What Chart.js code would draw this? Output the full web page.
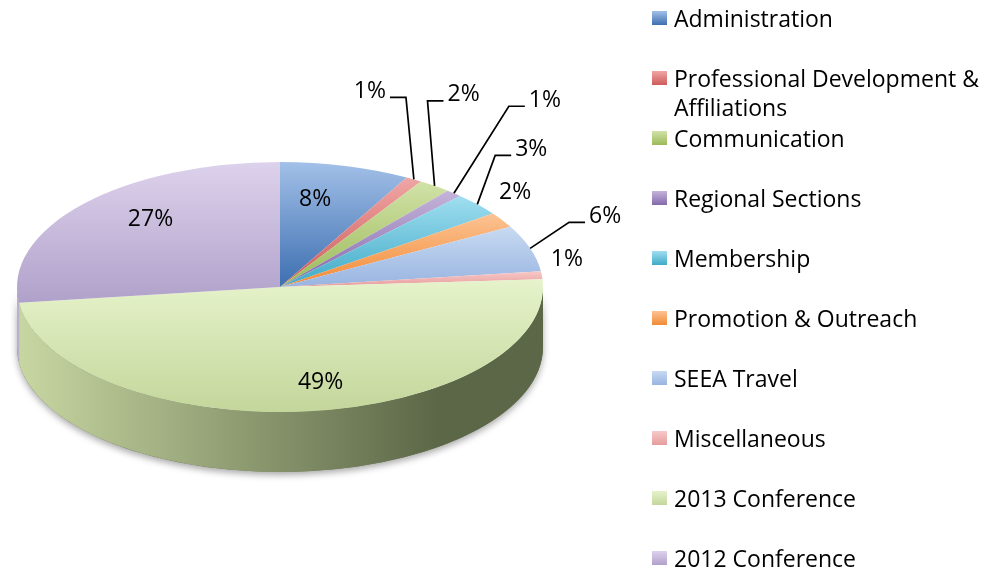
<!DOCTYPE html>
<html>
<head>
<meta charset="utf-8">
<title>Budget split</title>
<script src="https://cdn.jsdelivr.net/npm/chart.js@4.4.0/dist/chart.umd.min.js"></script>
<style>
  html, body { margin: 0; padding: 0; background: #fff; }
  #wrap { position: relative; width: 1003px; height: 571px; overflow: hidden; font-family: "Open Sans", sans-serif; }
  #budgetPie { position: absolute; left: 0; top: 0; }
  #legend { position: absolute; left: 652px; top: 4px; margin: 0; padding: 0; list-style: none; }
  #legend li { display: flex; align-items: flex-start; height: 60px; font-size: 23px; line-height: 29px; color: #000; }
  #legend .swatch { flex: none; width: 15px; height: 14px; margin: 7px 7px 0 0; }
  #legend .txt { max-width: 330px; }
</style>
</head>
<body>
<div id="wrap">
  <canvas id="budgetPie" width="1003" height="571"></canvas>
  <ul id="legend"></ul>
</div>
<script>
(function() {
  'use strict';

  // data
  const sliceLabels = [
    'Administration',
    'Professional Development & Affiliations',
    'Communication',
    'Regional Sections',
    'Membership',
    'Promotion & Outreach',
    'SEEA Travel',
    'Miscellaneous',
    '2013 Conference',
    '2012 Conference'
  ];
  const shares = [8, 1, 2, 1, 3, 2, 6, 1, 49, 27];

  // [light, dark] for the top face of each slice
  const faceColors = [
    ['#a2c0e8', '#3d6fb0'],
    ['#efa6a5', '#cd5b5a'],
    ['#d2e2a8', '#9aba58'],
    ['#c4b4d9', '#8468ab'],
    ['#a0def0', '#3faac6'],
    ['#fcc393', '#f28a35'],
    ['#c8daf2', '#98b4e0'],
    ['#f7c9c8', '#e69c9c'],
    ['#e6f3cb', '#c4d69b'],
    ['#ddd2ec', '#b0a1ca']
  ];
  // [light, dark] for the rim (side wall)
  const rimColors = [
    ['#6f8fbf', '#2c4f80'],
    ['#c07574', '#8a3f3e'],
    ['#a6b67a', '#6b8040'],
    ['#9585ab', '#5a4878'],
    ['#74aebf', '#2b7588'],
    ['#d29a68', '#a75f24'],
    ['#9db0cc', '#687f9e'],
    ['#c99d9c', '#a06e6e'],
    ['#c8d7a2', '#5c6747'],
    ['#bcb0d0', '#6e6186']
  ];

  const TILT = 125 / 263;  // vertical squash of the disc
  const DEPTH = 60;        // rim height in px

  // where each percentage goes: inside (fraction of radius) or outside with a leader
  const labelSpots = [
    { inside: 0.72, dx: -12, dy: 0 },
    { dx: -44, dy: -88, leader: true },
    { dx: 29, dy: -91, leader: true },
    { dx: 91, dy: -93, leader: true },
    { dx: 54, dy: -55, leader: true },
    { dx: 13, dy: -28 },
    { dx: 75, dy: -32, leader: true },
    { dx: 25, dy: -16 },
    { inside: 0.75, dx: 22, dy: 2 },
    { inside: 0.56, dx: -19, dy: -21 }
  ];

  const total = shares.reduce((a, b) => a + b, 0);

  function sliceAngles(i) {
    let before = 0;
    for (let k = 0; k < i; k++) before += shares[k];
    const a0 = -Math.PI / 2 + before / total * 2 * Math.PI;
    return [a0, a0 + shares[i] / total * 2 * Math.PI];
  }

  function sinRange(a0, a1) {
    let lo = Math.min(0, Math.sin(a0), Math.sin(a1));
    let hi = Math.max(0, Math.sin(a0), Math.sin(a1));
    [-Math.PI / 2, Math.PI / 2, 3 * Math.PI / 2].forEach(a => {
      if (a > a0 && a < a1) {
        lo = Math.min(lo, Math.sin(a));
        hi = Math.max(hi, Math.sin(a));
      }
    });
    return [lo, hi];
  }

  // vertical gradient per slice, light at its top, dark at its bottom
  function faceFill(context) {
    const i = context.dataIndex;
    const chart = context.chart;
    const area = chart.chartArea;
    if (!area || i === undefined) return faceColors[i || 0][0];
    const cy = (area.top + area.bottom) / 2;
    const r = Math.min(area.width, area.height) / 2;
    const [a0, a1] = sliceAngles(i);
    const [lo, hi] = sinRange(a0, a1);
    const g = chart.ctx.createLinearGradient(0, cy + lo * r, 0, cy + hi * r + 0.01);
    g.addColorStop(0, faceColors[i][0]);
    g.addColorStop(1, faceColors[i][1]);
    return g;
  }

  const tiltPlugin = {
    id: 'tilt',
    beforeDatasetsDraw(chart) {
      const arcs = chart.getDatasetMeta(0).data;
      const ctx = chart.ctx;
      const cx = arcs[0].x, cy = arcs[0].y, r = arcs[0].outerRadius;
      const d = DEPTH / TILT;

      ctx.save();
      ctx.translate(cx, cy);
      ctx.scale(1, TILT);
      ctx.translate(-cx, -cy);

      // soft shadow under the whole front rim
      ctx.save();
      ctx.shadowColor = 'rgba(0,0,0,0.35)';
      ctx.shadowBlur = 7;
      ctx.shadowOffsetY = 3;
      ctx.beginPath();
      ctx.arc(cx, cy, r, 0, Math.PI);
      ctx.arc(cx, cy + d, r, Math.PI, 0, true);
      ctx.closePath();
      ctx.fillStyle = '#6b7652';
      ctx.fill();
      ctx.restore();

      // rim pieces, only the front half is visible
      arcs.forEach((arc, i) => {
        const s = Math.max(arc.startAngle, 0);
        const e = Math.min(arc.endAngle, Math.PI);
        if (e <= s) return;
        const g = ctx.createLinearGradient(cx - r, 0, cx + r, 0);
        g.addColorStop(0, rimColors[i][0]);
        g.addColorStop(0.8, rimColors[i][1]);
        g.addColorStop(1, rimColors[i][1]);
        ctx.beginPath();
        ctx.arc(cx, cy, r, s, e);
        ctx.arc(cx, cy + d, r, e, s, true);
        ctx.closePath();
        ctx.fillStyle = g;
        ctx.fill();
      });
      // top faces are drawn by Chart.js inside this squashed transform
    },
    afterDatasetsDraw(chart) {
      const ctx = chart.ctx;
      ctx.restore();

      const arcs = chart.getDatasetMeta(0).data;
      const cx = arcs[0].x, cy = arcs[0].y, r = arcs[0].outerRadius;

      ctx.save();
      ctx.font = '23px "Open Sans", sans-serif';
      ctx.fillStyle = '#000';
      ctx.strokeStyle = '#000';
      ctx.lineWidth = 1.7;
      ctx.textAlign = 'center';
      ctx.textBaseline = 'middle';

      arcs.forEach((arc, i) => {
        const spot = labelSpots[i];
        const mid = (arc.startAngle + arc.endAngle) / 2;
        const f = spot.inside || 1;
        const px = cx + f * r * Math.cos(mid);
        const py = cy + f * r * TILT * Math.sin(mid);
        const tx = px + spot.dx;
        const ty = py + spot.dy;
        const text = Math.round(shares[i] / total * 100) + '%';

        if (spot.leader) {
          const w = ctx.measureText(text).width;
          const ly = ty + 6;
          let hx0, hx1;
          if (tx < px) {
            hx0 = tx + w / 2 + 4;
            hx1 = hx0 + 16;
          } else {
            hx0 = tx - w / 2 - 4;
            hx1 = hx0 - 16;
          }
          ctx.beginPath();
          ctx.moveTo(hx0, ly);
          ctx.lineTo(hx1, ly);
          ctx.lineTo(px, py);
          ctx.stroke();
        }
        ctx.fillText(text, tx, ty);
      });
      ctx.restore();
    }
  };

  new Chart(document.getElementById('budgetPie'), {
    type: 'pie',
    data: {
      labels: sliceLabels,
      datasets: [{
        data: shares,
        backgroundColor: faceFill,
        borderWidth: 0,
        clip: false
      }]
    },
    options: {
      responsive: false,
      animation: false,
      events: [],
      layout: { padding: { left: 17, right: 460, top: 24, bottom: 21 } },
      plugins: {
        legend: { display: false },
        tooltip: { enabled: false }
      }
    },
    plugins: [tiltPlugin]
  });

  // legend on the right
  const legend = document.getElementById('legend');
  sliceLabels.forEach((name, i) => {
    const li = document.createElement('li');
    const sw = document.createElement('span');
    sw.className = 'swatch';
    sw.style.background = `linear-gradient(to bottom, ${faceColors[i][0]}, ${faceColors[i][1]})`;
    const tx = document.createElement('span');
    tx.className = 'txt';
    tx.textContent = name;
    li.appendChild(sw);
    li.appendChild(tx);
    legend.appendChild(li);
  });
})();
</script>
</body>
</html>
